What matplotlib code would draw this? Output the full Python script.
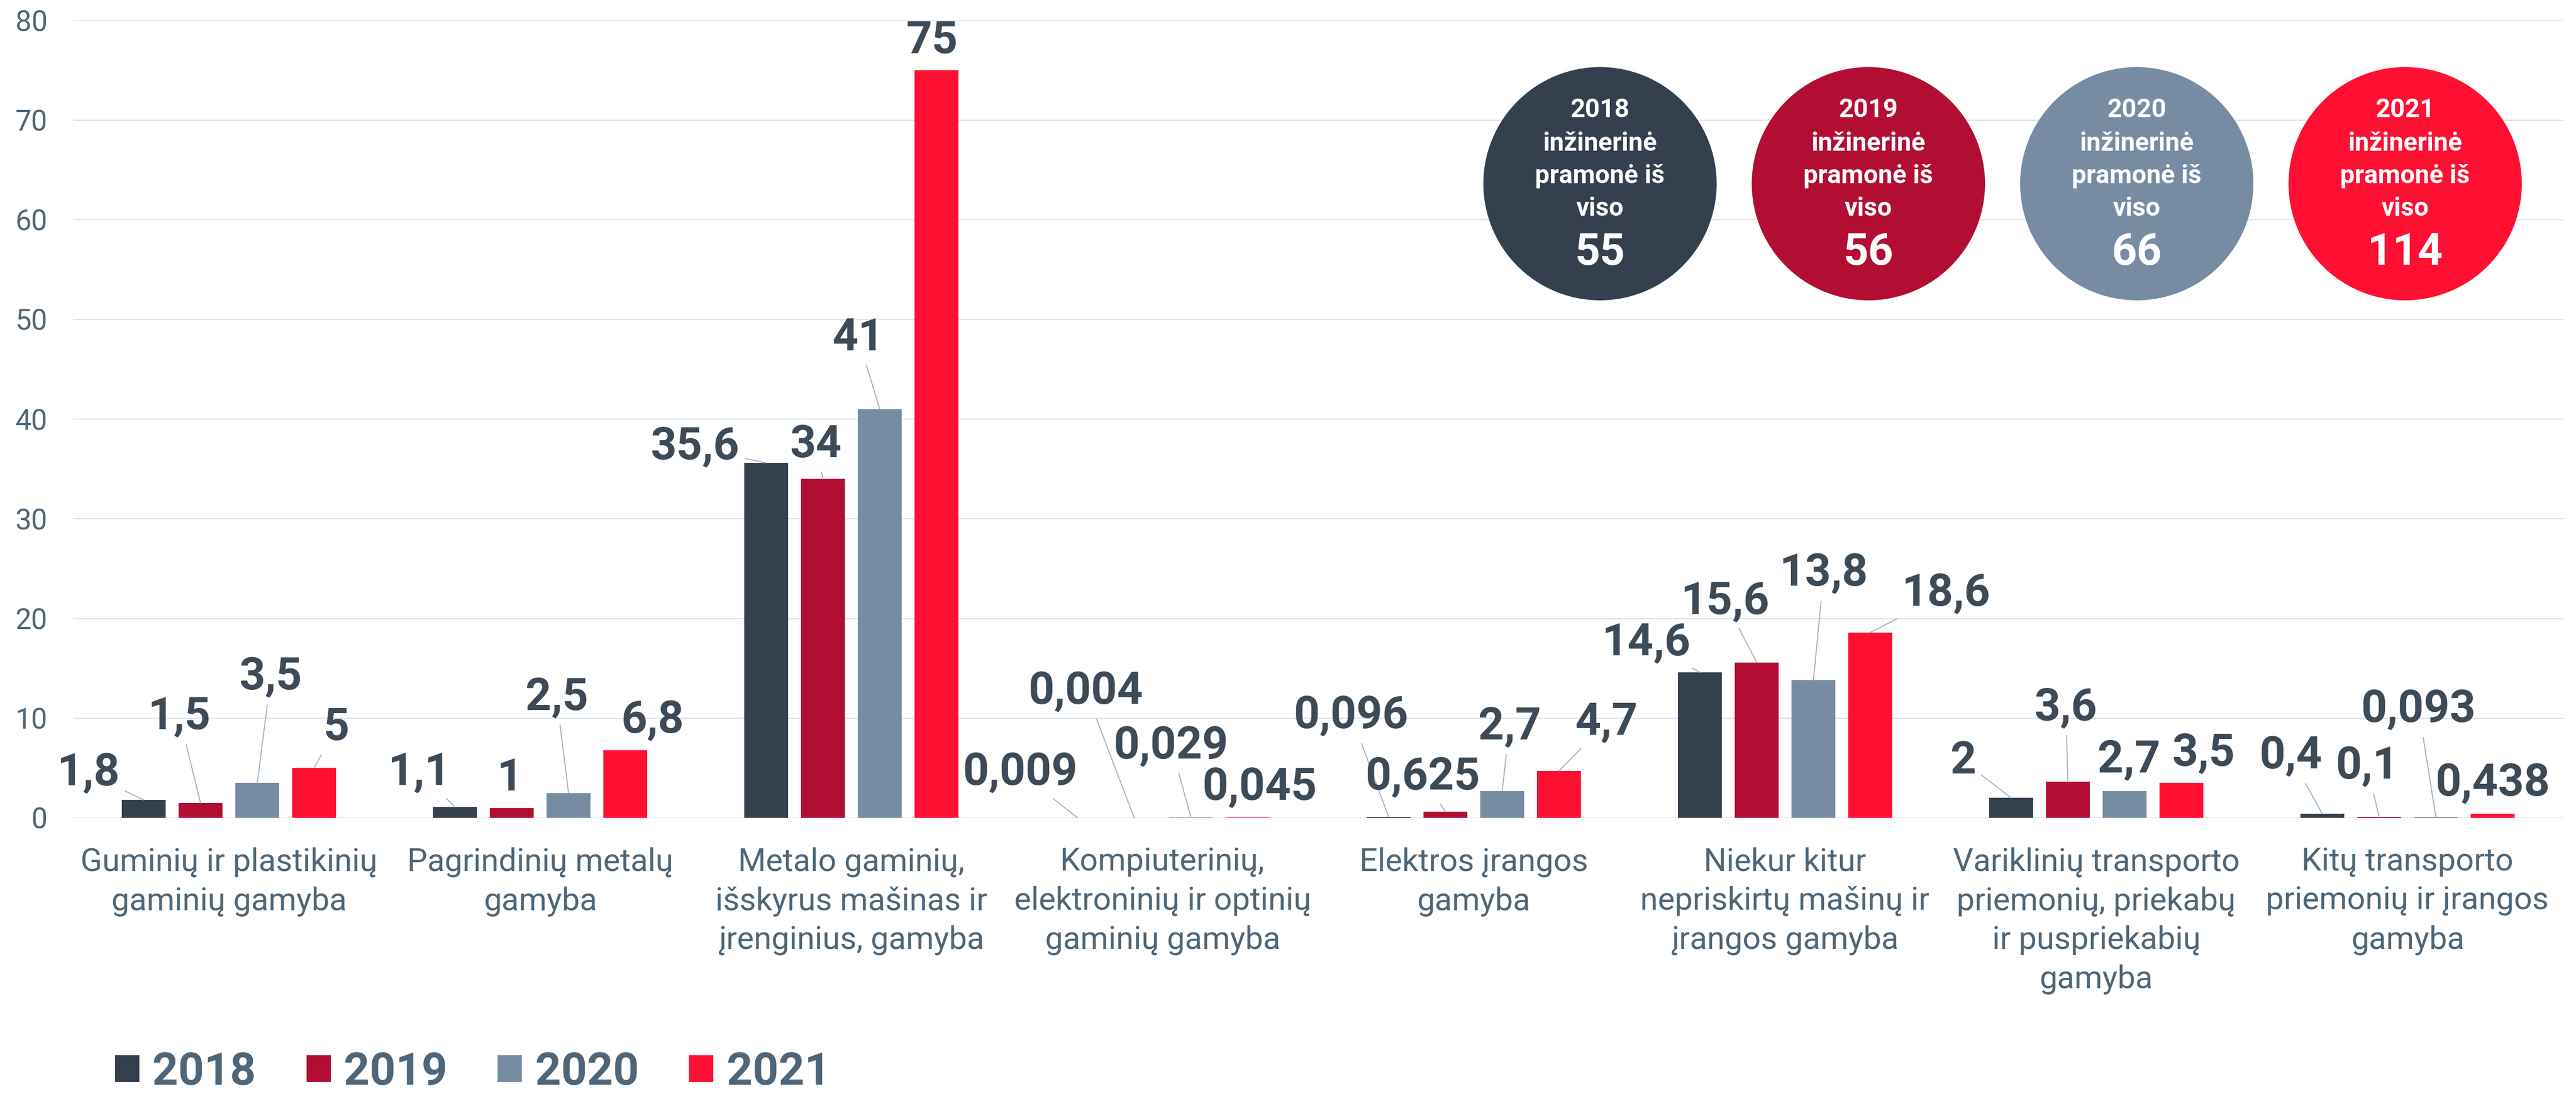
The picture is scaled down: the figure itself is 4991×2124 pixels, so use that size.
import matplotlib
matplotlib.use("Agg")
import matplotlib.pyplot as plt
from matplotlib.patches import Circle
import numpy as np

plt.rcParams['font.family'] = ['Roboto', 'DejaVu Sans']

# ---------------- data ----------------
categories = [
    "Guminių ir plastikinių\ngaminių gamyba",
    "Pagrindinių metalų\ngamyba",
    "Metalo gaminių,\nišskyrus mašinas ir\nįrenginius, gamyba",
    "Kompiuterinių,\nelektroninių ir optinių\ngaminių gamyba",
    "Elektros įrangos\ngamyba",
    "Niekur kitur\nnepriskirtų mašinų ir\nįrangos gamyba",
    "Variklinių transporto\npriemonių, priekabų\nir puspriekabių\ngamyba",
    "Kitų transporto\npriemonių ir įrangos\ngamyba",
]
years = ["2018", "2019", "2020", "2021"]
v2018 = [1.8, 1.1, 35.6, 0.009, 0.096, 14.6, 2, 0.4]
v2019 = [1.5, 1, 34, 0.004, 0.625, 15.6, 3.6, 0.1]
v2020 = [3.5, 2.5, 41, 0.029, 2.7, 13.8, 2.7, 0.093]
v2021 = [5, 6.8, 75, 0.045, 4.7, 18.6, 3.5, 0.438]
totals = [55, 56, 66, 114]
yticks = [0, 10, 20, 30, 40, 50, 60, 70, 80]
circle_line = "inžinerinė\npramonė iš\nviso"

# ---------------- styles / layout ----------------
colors = ["#34404D", "#B20E34", "#778CA3", "#FF1033"]
label_color = "#3D4A57"
axis_text = "#4F6678"
grid_color = "#DDE3E8"
leader_color = "#A5B4C2"

# label offsets in pixels (dx, dy up, leader flag) relative to bar top centre
lab2018 = [(-107, 27, 1), (-69, 43, 1), (-138, 6, 1), (-110, 63, 1), (-72, 171, 1), (-104, 33, 1), (-92, 47, 1), (-61, 87, 1)]
lab2019 = [(-41, 143, 1), (-4, 34, 0), (-14, 42, 1), (-93, 220, 1), (-44, 43, 1), (-61, 94, 1), (-4, 119, 1), (-23, 73, 1)]
lab2020 = [(26, 180, 1), (-23, 161, 1), (-42, 114, 1), (-38, 115, 1), (14, 100, 1), (20, 182, 1), (8, 36, 0), (-33, 183, 1)]
lab2021 = [(43, 54, 1), (53, 33, 0), (-9, 33, 0), (24, 33, 0), (92, 70, 1), (147, 51, 1), (43, 32, 0), (1, 34, 0)]

W, H = 4991, 2124
DPI = 100
fig = plt.figure(figsize=(W / DPI, H / DPI), dpi=DPI)
fig.patch.set_facecolor("white")

ax_left, ax_right = 142, 4966
ax_bottom, ax_top = 1585, 39.4
ax = fig.add_axes([ax_left / W, 1 - ax_bottom / H,
                   (ax_right - ax_left) / W, (ax_bottom - ax_top) / H])

series = [v2018, v2019, v2020, v2021]
labels = [lab2018, lab2019, lab2020, lab2021]
x = np.arange(len(categories))
step = 0.1824
width = 0.141
offs = [-1.5 * step, -0.5 * step, 0.5 * step, 1.5 * step]

for j, vals in enumerate(series):
    ax.bar(x + offs[j], vals, width=width, color=colors[j], label=years[j], zorder=2)

for j, vals in enumerate(series):
    for i, v in enumerate(vals):
        dx, dy, lead = labels[j][i]
        txt = f"{v:g}".replace(".", ",")
        kw = dict(xy=(x[i] + offs[j], v), xytext=(dx, dy), textcoords="offset pixels",
                  ha="center", va="baseline", fontsize=63, fontweight="bold",
                  color=label_color, zorder=4, annotation_clip=False)
        if lead:
            kw["arrowprops"] = dict(arrowstyle="-", color=leader_color, lw=1.5,
                                    shrinkA=6, shrinkB=0)
        ax.annotate(txt, **kw)

ax.set_xlim(-0.5, len(categories) - 0.5)
ax.set_ylim(0, 80)
ax.set_yticks(yticks)
ax.set_yticklabels([str(t) for t in yticks])
ax.yaxis.grid(True, color=grid_color, lw=1.5, zorder=0)
ax.set_axisbelow(True)
for s in ax.spines.values():
    s.set_visible(False)
ax.tick_params(axis="y", length=0, pad=36, labelsize=40, labelcolor=axis_text)
ax.set_xticks(x)
ax.set_xticklabels(categories, fontsize=44.5, color=axis_text, linespacing=1.37)
ax.tick_params(axis="x", length=0, pad=41)

# legend
fig.legend(loc="lower left", bbox_to_anchor=(223 / W, 0.002), ncol=4, frameon=False,
           prop={"weight": "bold", "size": 63}, labelcolor=axis_text,
           handlelength=0.537, handleheight=0.537, handletextpad=0.29,
           columnspacing=1.115, borderpad=0, borderaxespad=0)

# summary circles (pixel overlay)
ov = fig.add_axes([0, 0, 1, 1], zorder=5)
ov.set_xlim(0, W)
ov.set_ylim(H, 0)
ov.axis("off")
ov.patch.set_alpha(0)
cx0, cgap, cy, rad = 3100, 520, 356, 226
for k, (yr, tot) in enumerate(zip(years, totals)):
    cx = cx0 + k * cgap
    ov.add_patch(Circle((cx, cy), rad, color=colors[k], lw=0))
    lines = [yr] + circle_line.split("\n")
    bases = [227, 292, 355, 418]
    for ln, b in zip(lines, bases):
        ov.text(cx, b, ln, ha="center", va="baseline", color="white",
                fontsize=36, fontweight="bold")
    ov.text(cx, 513, str(tot), ha="center", va="baseline", color="white",
            fontsize=61, fontweight="bold")

fig.savefig("out.png", dpi=DPI, facecolor="white")
